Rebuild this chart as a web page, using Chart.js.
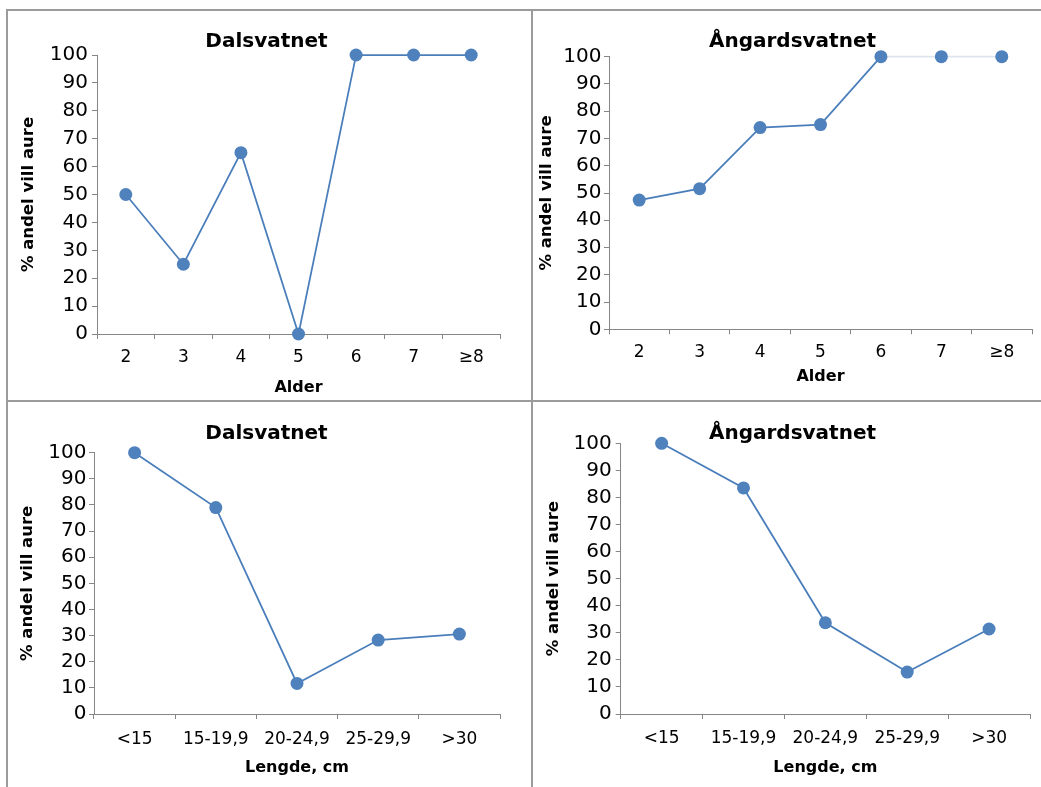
<!DOCTYPE html>
<html>
<head>
<meta charset="utf-8">
<title>Andel vill aure – Dalsvatnet og Ångardsvatnet</title>
<script src="https://cdn.jsdelivr.net/npm/chart.js@4/dist/chart.umd.min.js"></script>
<style>
  html, body { margin: 0; padding: 0; background: #fff; }
  #page { position: relative; width: 1041px; height: 787px; overflow: hidden; background: #fff; }
  canvas { position: absolute; }
  .rule { position: absolute; background: #9b9b9b; z-index: 2; }
</style>
</head>
<body>
<div id="page">
  <div class="rule" style="left:7px; top:9px; width:1034px; height:2px;"></div>
  <div class="rule" style="left:7px; top:400px; width:1034px; height:2px;"></div>
  <div class="rule" style="left:6px; top:9px; width:2px; height:778px;"></div>
  <div class="rule" style="left:531px; top:9px; width:2px; height:778px;"></div>
  <canvas id="alderDals"   width="523" height="389" style="left:8px;   top:11px;"></canvas>
  <canvas id="alderAng"    width="508" height="389" style="left:533px; top:11px;"></canvas>
  <canvas id="lengdeDals"  width="523" height="385" style="left:8px;   top:402px;"></canvas>
  <canvas id="lengdeAng"   width="508" height="385" style="left:533px; top:402px;"></canvas>
</div>
<script>
// Categories
const alderLabels  = ['2', '3', '4', '5', '6', '7', '≥8'];
const lengdeLabels = ['<15', '15-19,9', '20-24,9', '25-29,9', '>30'];

// Share of wild trout (%) per age class
const dalsAlder = [50, 25, 65, 0, 100, 100, 100];
const angAlder  = [47.4, 51.6, 74, 75.1, 100, 100, 100];

// Share of wild trout (%) per length class
const dalsLengde = [100, 79, 11.7, 28.3, 30.6];
const angLengde  = [100, 83.5, 33.7, 15.5, 31.4];

// Y-axis ticks
const yMin = 0, yMax = 100, yStep = 10;

const FONT = "'DejaVu Sans', 'Liberation Sans', Arial, sans-serif";
const AXIS_GREY = '#868686';
const LINE_BLUE = '#4a7ebb';
const MARK_BLUE = '#4f81bd';

function makePanel(id, labels, values, title, xTitle, g, fadedFrom) {
  const ctx = document.getElementById(id);
  return new Chart(ctx, {
    type: 'line',
    data: {
      labels: labels,
      datasets: [{
        data: values,
        borderColor: LINE_BLUE,
        borderWidth: 1.75,
        pointRadius: 6.5,
        pointBackgroundColor: MARK_BLUE,
        pointBorderColor: MARK_BLUE,
        pointBorderWidth: 0,
        tension: 0,
        fill: false,
        clip: false,
        segment: {
          borderColor: (s) => (fadedFrom !== undefined && s.p0DataIndex >= fadedFrom) ? '#dde5ef' : undefined
        }
      }]
    },
    options: {
      responsive: false,
      animation: false,
      devicePixelRatio: 1,
      layout: { padding: { left: g.padLeft, right: g.padRight, top: 0, bottom: 0 } },
      plugins: {
        legend: { display: false },
        tooltip: { enabled: false },
        title: {
          display: true,
          text: title,
          color: '#000',
          font: { family: FONT, size: 20, weight: 'bold', lineHeight: 1 },
          padding: { top: g.titleTop, bottom: g.titleBottom }
        }
      },
      scales: {
        x: {
          type: 'category',
          offset: true,
          grid: {
            offset: true,
            drawOnChartArea: false,
            drawTicks: true,
            tickLength: 5,
            color: AXIS_GREY,
            lineWidth: 1
          },
          border: { display: true, color: AXIS_GREY, width: 1 },
          ticks: {
            color: '#000',
            font: { family: FONT, size: 17, lineHeight: 1.2 },
            padding: g.xTickPad,
            maxRotation: 0,
            autoSkip: false
          },
          title: {
            display: true,
            text: xTitle,
            color: '#000',
            font: { family: FONT, size: 16, weight: 'bold', lineHeight: 1.2 },
            padding: { top: 0, bottom: g.xTitleBottom }
          },
          afterFit: (s) => { s.height = g.xHeight; }
        },
        y: {
          min: yMin,
          max: yMax,
          grid: {
            drawOnChartArea: false,
            drawTicks: true,
            tickLength: 5,
            color: AXIS_GREY,
            lineWidth: 1
          },
          border: { display: true, color: AXIS_GREY, width: 1 },
          ticks: {
            stepSize: yStep,
            autoSkip: false,
            color: '#000',
            font: { family: FONT, size: 20, lineHeight: 1.2 },
            padding: g.yTickPad
          },
          title: {
            display: true,
            text: '% andel vill aure',
            color: '#000',
            font: { family: FONT, size: 16.5, weight: 'bold', lineHeight: 1.2 },
            padding: { top: g.yTitleLeft, bottom: 0 }
          },
          afterFit: (s) => { s.width = g.yWidth; }
        }
      }
    }
  });
}

// The left padding centres the chart title; the y-axis width and title offset
// are reduced by the same amount so the plot area keeps its place.
makePanel('alderDals', alderLabels, dalsAlder, 'Dalsvatnet', 'Alder',
  { padLeft: 25, padRight: 31, titleTop: 21, titleBottom: 3, xHeight: 66, xTickPad: 8, xTitleBottom: 2.4,
    yWidth: 64, yTickPad: 4, yTitleLeft: -13.9 });

makePanel('alderAng', alderLabels, angAlder, 'Ångardsvatnet', 'Alder',
  { padLeft: 20, padRight: 9, titleTop: 21, titleBottom: 4.7, xHeight: 70.7, xTickPad: 8, xTitleBottom: 13.7,
    yWidth: 56, yTickPad: 2.5, yTitleLeft: -16.2 }, 4);

makePanel('lengdeDals', lengdeLabels, dalsLengde, 'Dalsvatnet', 'Lengde, cm',
  { padLeft: 25, padRight: 31, titleTop: 21.7, titleBottom: 9, xHeight: 73, xTickPad: 10, xTitleBottom: 9.4,
    yWidth: 61, yTickPad: 2.5, yTitleLeft: -15.4 });

makePanel('lengdeAng', lengdeLabels, angLengde, 'Ångardsvatnet', 'Lengde, cm',
  { padLeft: 22, padRight: 11, titleTop: 21.3, titleBottom: 0, xHeight: 73, xTickPad: 9, xTitleBottom: 9.1,
    yWidth: 65.7, yTickPad: 4, yTitleLeft: -11.6 });
</script>
</body>
</html>
